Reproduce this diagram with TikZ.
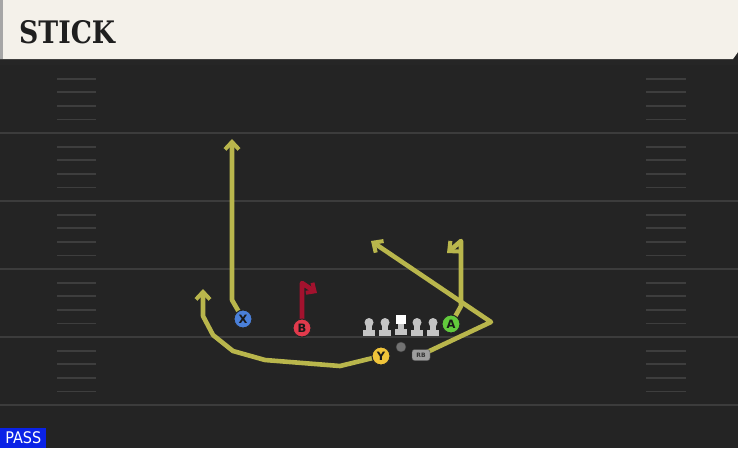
\documentclass[tikz,border=0pt]{standalone}
\usepackage{fontspec}
\setmainfont{DejaVu Sans}
\newfontfamily\titlefont{DejaVu Serif}
\usetikzlibrary{arrows.meta}
\definecolor{field}{HTML}{242424}
\definecolor{yardc}{HTML}{3C3C3C}
\definecolor{hashc}{HTML}{3E3E3E}
\definecolor{cream}{HTML}{F4F1EA}
\definecolor{route}{HTML}{B9B64C}
\definecolor{redroute}{HTML}{A3122E}
\definecolor{xblue}{HTML}{4A80DA}
\definecolor{bred}{HTML}{E23A4C}
\definecolor{yyel}{HTML}{F0C43A}
\definecolor{agreen}{HTML}{62CA3C}
\definecolor{linec}{HTML}{C4C4C4}
\definecolor{passblue}{HTML}{0A22E6}
\tikzset{
  yard/.style={draw=yardc, line width=1.8},
  hashmark/.style={draw=hashc, line width=1.8},
  routeline/.style={draw=route, line width=4.6, line join=round, line cap=round,
     -{Straight Barb[length=7.5, width=14, line width=4]}},
  player/.style={circle, draw=black!85, line width=1, minimum size=18, inner sep=0,
     font=\bfseries\fontsize{11.5}{11.5}\selectfont, text=black!90},
}
\begin{document}
\begin{tikzpicture}[x=1pt,y=-1pt]
\useasboundingbox (0,0) rectangle (738,448);
\fill[field] (0,0) rectangle (738,448);
% yard lines
\foreach \y in {133,201,269,337,405} \draw[yard] (0,\y) -- (738,\y);
% hash marks
\foreach \b in {65,133,201,269,337} {
  \foreach \k in {1,2,3,4} {
    \draw[hashmark] (57,{\b+13.6*\k}) -- (96,{\b+13.6*\k});
    \draw[hashmark] (646,{\b+13.6*\k}) -- (686,{\b+13.6*\k});
  }
}
% header
\fill[black!85] (0,59) rectangle (738,65);
\fill[cream] (0,0) -- (738,0) -- (738,52) -- (733,59) -- (0,59) -- cycle;
\fill[gray!70] (0,0) rectangle (3,59);
\node[anchor=west, inner sep=0, text=black!88] (title) at (19,32)
  {\titlefont\bfseries\fontsize{31}{31}\selectfont\scalebox{0.86}[1]{STICK}};
% PASS label
\node[fill=passblue, text=white, anchor=south west, minimum width=46, minimum height=20,
  inner sep=0, font=\fontsize{16}{16}\selectfont] (pass) at (0,448) {\scalebox{0.9}[1]{PASS}};

% players positions
\coordinate (Xp) at (243,319);
\coordinate (Bp) at (302,328);
\coordinate (Yp) at (381,356);
\coordinate (Ap) at (451,324);
\coordinate (RBp) at (421,355);

% route coordinates
\coordinate (x1) at (232,300);
\coordinate (x2) at (232,139);
\coordinate (b1) at (302,283);
\coordinate (b2) at (317,293);
\coordinate (y1) at (340,366);
\coordinate (y2) at (265,360);
\coordinate (y3) at (233,351);
\coordinate (y4) at (213,335);
\coordinate (y5) at (203,316);
\coordinate (y6) at (203,289);
\coordinate (a1) at (461,306);
\coordinate (a2) at (461,241);
\coordinate (a3) at (447,253);
\coordinate (r1) at (491,322);
\coordinate (r2) at (371,241);

% routes
\draw[routeline] (Xp) -- (x1) -- (x2);
\draw[routeline] (Yp) -- (y1) -- (y2) -- (y3) -- (y4) -- (y5) -- (y6);
\draw[routeline] (Ap) -- (a1) -- (a2) -- (a3);
\draw[routeline] (RBp) -- (r1) -- (r2);
\draw[draw=redroute, line width=4.6, line join=round,
  -{Straight Barb[length=6.5, width=12, line width=4]}] (Bp) -- (b1) -- (b2);

% offensive line
\foreach \lx in {369,385,417,433} {
  \fill[linec] (\lx,322.5) circle (4.5);
  \fill[linec] ({\lx-2.7},323) rectangle ({\lx+2.7},331);
  \fill[linec] ({\lx-6},330) rectangle ({\lx+6},336);
}
\fill[white] (396,314.5) rectangle (406,324);
\fill[linec] (398.3,324) rectangle (403.7,330);
\fill[linec] (395,329) rectangle (407,335);
% QB
\node[circle, fill=black!55, draw=black!75, minimum size=10, inner sep=0] (qb) at (401,347) {};
% RB
\node[rounded corners=2.5, fill=black!38, draw=black!70, minimum width=18, minimum height=11,
  inner sep=0, font=\bfseries\fontsize{6}{6}\selectfont, text=black!80] (rb) at (RBp) {RB};

% skill players
\node[player, fill=xblue] (X) at (Xp) {X};
\node[player, fill=bred] (B) at (Bp) {B};
\node[player, fill=yyel] (Y) at (Yp) {Y};
\node[player, fill=agreen] (A) at (Ap) {A};
\end{tikzpicture}
\end{document}
